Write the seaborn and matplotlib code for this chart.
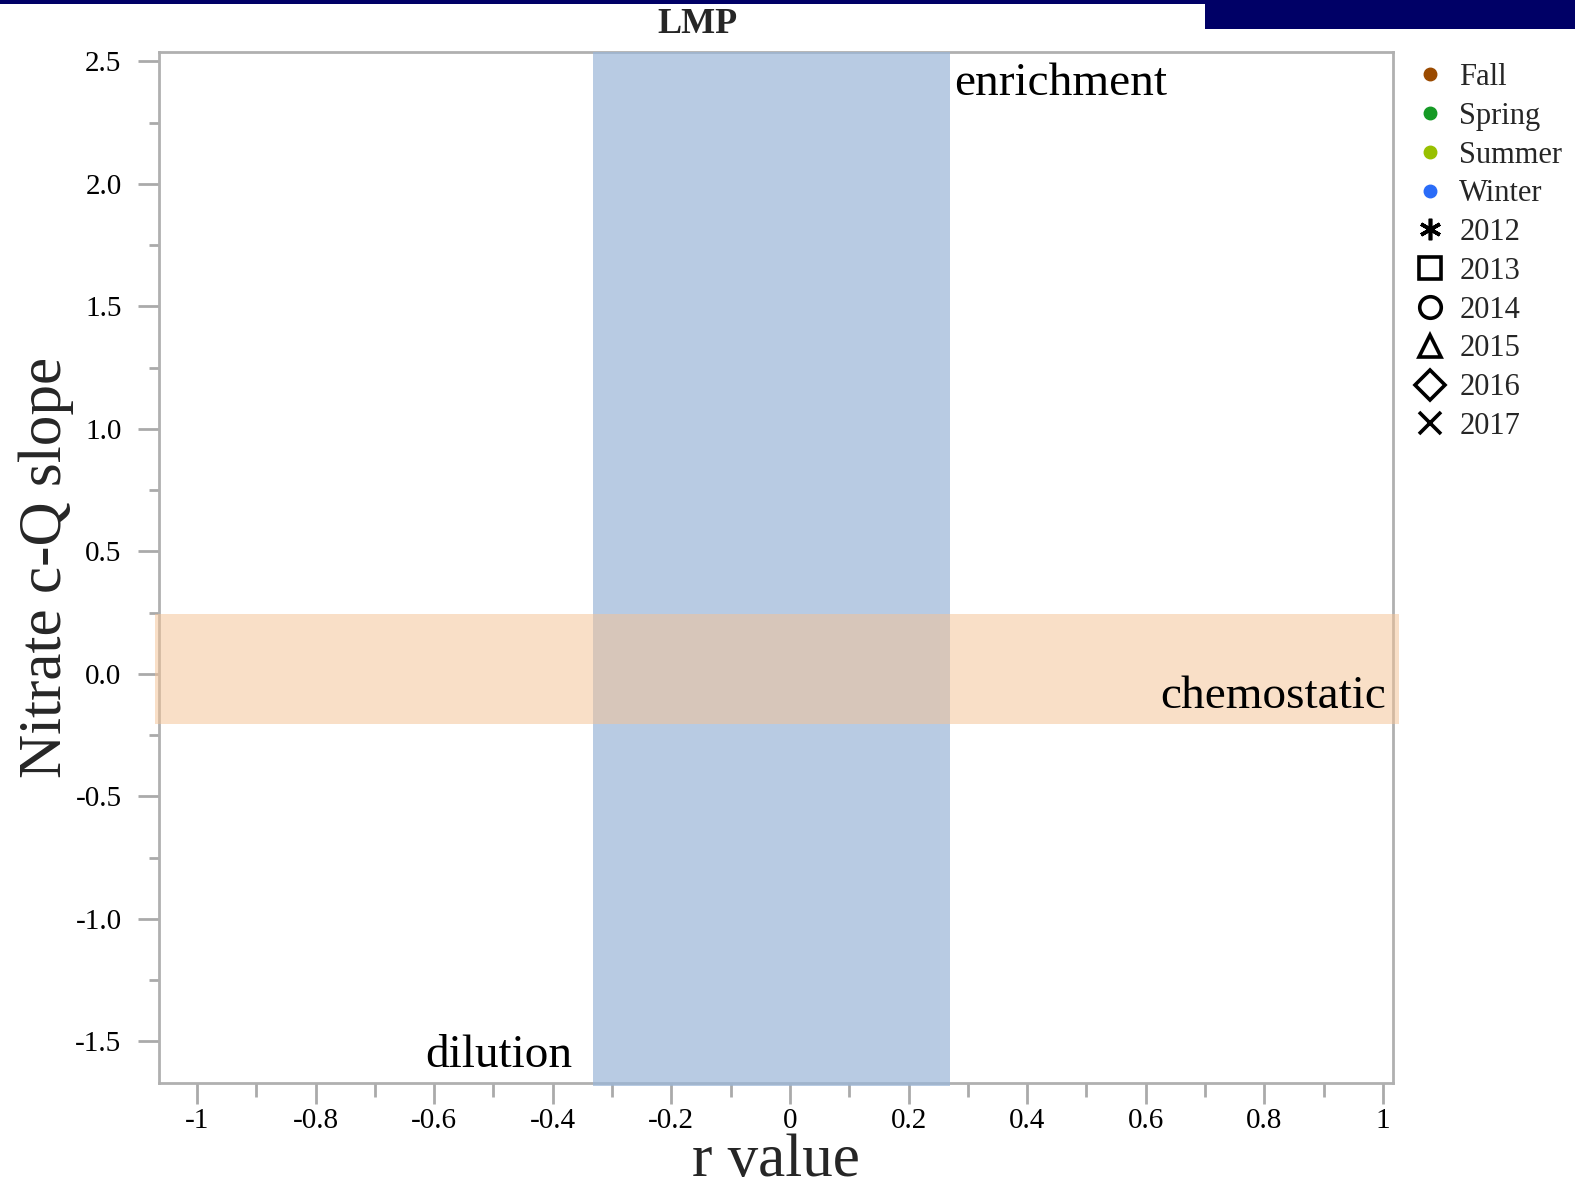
import matplotlib
matplotlib.use("Agg")
import matplotlib.pyplot as plt
from matplotlib.lines import Line2D
from matplotlib.patches import Rectangle
from matplotlib.ticker import MultipleLocator, FuncFormatter
import pandas as pd
import seaborn as sns

# Legend categories
seasons = ["Fall", "Spring", "Summer", "Winter"]
season_colors = ["#9a4a00", "#159a25", "#98c000", "#2a6cf8"]
years = ["2012", "2013", "2014", "2015", "2016", "2017"]
year_markers = [(6, 2, 0), "s", "o", "^", "D", "x"]

# Observations (r value vs. nitrate c-Q slope) for this site: none recorded
obs_r = []
obs_slope = []
obs_season = []
obs_year = []

# Reference zones
chemostatic_band = (-0.205, 0.246)   # slope range
weak_r_band = (-0.332, 0.27)         # r range

sns.set_style("white")
plt.rcParams["font.family"] = ["Liberation Serif", "DejaVu Serif"]
plt.rcParams["axes.unicode_minus"] = False

fig = plt.figure(figsize=(15.75, 11.89), dpi=100)
ax = fig.add_axes([0.101, 0.0895, 0.7834, 0.8666])

obs = pd.DataFrame({"r": pd.Series(obs_r, dtype=float),
                    "slope": pd.Series(obs_slope, dtype=float),
                    "season": pd.Series(obs_season, dtype=object),
                    "year": pd.Series(obs_year, dtype=object)})
if len(obs):
    sns.scatterplot(data=obs, x="r", y="slope", hue="season", style="year",
                    hue_order=seasons, style_order=years,
                    palette=dict(zip(seasons, season_colors)),
                    markers=dict(zip(years, year_markers)),
                    legend=False, ax=ax)

xlim = (-1.064, 1.017)
ylim = (-1.668, 2.537)
ax.set_xlim(*xlim)
ax.set_ylim(*ylim)

# Shaded zones, drawn a touch past the frame
ax.add_patch(Rectangle((weak_r_band[0], -1.68), weak_r_band[1] - weak_r_band[0],
                       ylim[1] + 1.68, facecolor=(154/255, 182/255, 216/255),
                       alpha=0.7, lw=0, clip_on=False, zorder=5))
ax.add_patch(Rectangle((-1.071, chemostatic_band[0]), 1.027 + 1.071,
                       chemostatic_band[1] - chemostatic_band[0],
                       facecolor=(245/255, 194/255, 149/255),
                       alpha=0.52, lw=0, clip_on=False, zorder=6))

txt = dict(fontsize=34, color="black", zorder=7)
ax.text(0.277, 2.361, "enrichment", ha="left", va="baseline", **txt)
ax.text(1.005, -0.14, "chemostatic", ha="right", va="baseline", **txt)
ax.text(-0.367, -1.603, "dilution", ha="right", va="baseline", **txt)

# Axes styling
for s in ax.spines.values():
    s.set_color("#b0b0b0")
    s.set_linewidth(2)
    s.set_visible(True)

ax.xaxis.set_major_locator(MultipleLocator(0.2))
ax.xaxis.set_minor_locator(MultipleLocator(0.1))
ax.yaxis.set_major_locator(MultipleLocator(0.5))
ax.yaxis.set_minor_locator(MultipleLocator(0.25))
ax.xaxis.set_major_formatter(FuncFormatter(
    lambda v, p: f"{v:.1f}".rstrip("0").rstrip(".") if abs(v) > 1e-9 else "0"))
ax.yaxis.set_major_formatter(FuncFormatter(
    lambda v, p: f"{v:.1f}" if abs(v) > 1e-9 else "0.0"))

ax.tick_params(axis="both", which="both", direction="out", color="#aaaaaa",
               width=2, labelsize=21, labelcolor="black",
               bottom=True, left=True, top=False, right=False)
ax.tick_params(axis="y", which="major", length=15, pad=12)
ax.tick_params(axis="y", which="minor", length=7)
ax.tick_params(axis="x", which="major", length=15, pad=3)
ax.tick_params(axis="x", which="minor", length=10)

ax.set_xlabel("r value", fontsize=44, labelpad=0)
ax.set_ylabel("Nitrate c-Q slope", fontsize=44, labelpad=1)

fig.text(697 / 1575, 1 - 33 / 1189, "LMP", ha="center", va="baseline",
         fontsize=26, fontweight="bold")

# Legend: season colours and year symbols
handles = [Line2D([], [], ls="none", marker="o", markersize=9,
                  markerfacecolor=c, markeredgecolor=c) for c in season_colors]
handles += [Line2D([], [], ls="none", marker=m, markersize=15.5,
                   markerfacecolor="none", markeredgecolor="black",
                   markeredgewidth=2.6) for m in year_markers]
labels = seasons + years
fig.legend(handles, labels, loc="upper left",
           bbox_to_anchor=(1415 / 1575, 1 - 63 / 1189), frameon=False,
           fontsize=22, handlelength=1.0, handletextpad=0.45,
           labelspacing=0.32, borderpad=0, borderaxespad=0)

# Header strip
fig.add_artist(Rectangle((0, 1 - 4 / 1189), 1, 4 / 1189,
                         transform=fig.transFigure, color="#000066", lw=0))
fig.add_artist(Rectangle((1205 / 1575, 1 - 29 / 1189), 370 / 1575, 29 / 1189,
                         transform=fig.transFigure, color="#000066", lw=0))

fig.savefig("out.png", dpi=100)
